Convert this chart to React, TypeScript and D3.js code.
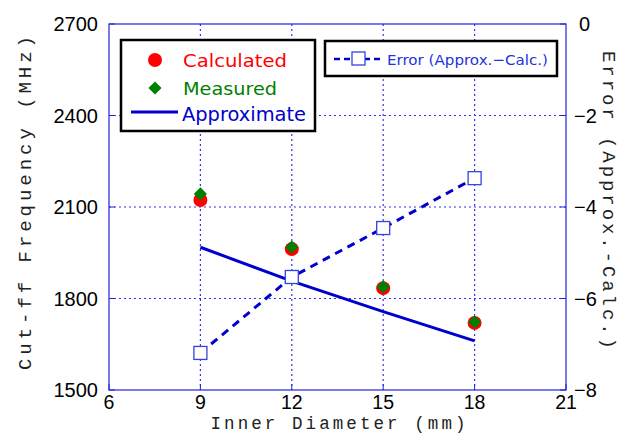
import { useEffect, useRef } from 'react';
import * as d3 from 'd3';

const diameters = [9, 12, 15, 18];
const calculated = [2123, 1962, 1834, 1720];
const measured = [2143, 1969, 1838, 1723];
const approximate = [1968, 1857, 1757, 1661];
const errors = [-7.19, -5.53, -4.46, -3.37];

const xTicks = [6, 9, 12, 15, 18, 21];
const yTicks = [1500, 1800, 2100, 2400, 2700];
const y2Ticks = [0, -2, -4, -6, -8];

const BLUE = '#0000cc';
const GRID = '#3333ee';

export default function App() {
  const svgRef = useRef<SVGSVGElement>(null);

  useEffect(() => {
    if (!svgRef.current) return;
    const svg = d3.select(svgRef.current);
    svg.selectAll('*').remove();

    const margin = { top: 24, right: 52, bottom: 44, left: 109 };
    const W = 618, H = 434;
    const width = W - margin.left - margin.right;
    const height = H - margin.top - margin.bottom;

    const g = svg.append('g').attr('transform', `translate(${margin.left},${margin.top})`);

    const x = d3.scaleLinear().domain([6, 21]).range([0, width]);
    const y = d3.scaleLinear().domain([1500, 2700]).range([height, 0]);
    const y2 = d3.scaleLinear().domain([-8, 0]).range([height, 0]);

    // grid
    g.selectAll('.vgrid')
      .data(xTicks.slice(1, -1))
      .enter()
      .append('line')
      .attr('x1', d => x(d)).attr('x2', d => x(d))
      .attr('y1', 0).attr('y2', height)
      .attr('stroke', GRID).attr('stroke-width', 1.2).attr('stroke-dasharray', '2,3');
    g.selectAll('.hgrid')
      .data(yTicks.slice(1, -1))
      .enter()
      .append('line')
      .attr('y1', d => y(d)).attr('y2', d => y(d))
      .attr('x1', 0).attr('x2', width)
      .attr('stroke', GRID).attr('stroke-width', 1.2).attr('stroke-dasharray', '2,3');

    // frame
    g.append('rect')
      .attr('width', width).attr('height', height)
      .attr('fill', 'none').attr('stroke', '#2222dd').attr('stroke-width', 1.2);

    // inward ticks
    const tick = 6;
    g.selectAll('.xt').data(xTicks).enter().append('line')
      .attr('x1', d => x(d)).attr('x2', d => x(d))
      .attr('y1', height).attr('y2', height - tick)
      .attr('stroke', '#2222dd');
    g.selectAll('.yt').data(yTicks).enter().append('line')
      .attr('x1', 0).attr('x2', tick)
      .attr('y1', d => y(d)).attr('y2', d => y(d))
      .attr('stroke', '#2222dd');
    g.selectAll('.y2t').data(y2Ticks).enter().append('line')
      .attr('x1', width).attr('x2', width - tick)
      .attr('y1', d => y2(d)).attr('y2', d => y2(d))
      .attr('stroke', '#2222dd');

    const tickFont = 'Liberation Sans, Arial, sans-serif';

    // tick labels
    g.selectAll('.xl').data(xTicks).enter().append('text')
      .attr('x', d => x(d)).attr('y', height + 19)
      .attr('text-anchor', 'middle')
      .attr('font-family', tickFont).attr('font-size', 19.5)
      .text(d => d);
    g.selectAll('.yl').data(yTicks).enter().append('text')
      .attr('x', -11).attr('y', d => y(d) + 7)
      .attr('text-anchor', 'end')
      .attr('font-family', tickFont).attr('font-size', 20)
      .text(d => d);
    g.selectAll('.y2l').data(y2Ticks).enter().append('text')
      .attr('x', d => (d === 0 ? width + 13 : width + 8)).attr('y', d => y2(d) + 7)
      .attr('text-anchor', 'start')
      .attr('font-family', tickFont).attr('font-size', 20)
      .text(d => (d === 0 ? '0' : '\u2212' + Math.abs(d)));

    // axis titles
    const titleFont = 'Liberation Mono, DejaVu Sans Mono, monospace';
    svg.append('text')
      .attr('x', 338).attr('y', 429)
      .attr('text-anchor', 'middle')
      .attr('font-family', titleFont).attr('font-size', 17.5).attr('fill', '#222')
      .attr('textLength', 255).attr('lengthAdjust', 'spacing')
      .text('Inner Diameter (mm)');
    svg.append('text')
      .attr('transform', `translate(31,203) rotate(-90)`)
      .attr('text-anchor', 'middle')
      .attr('font-family', titleFont).attr('font-size', 19).attr('fill', '#222')
      .attr('textLength', 334).attr('lengthAdjust', 'spacing')
      .text('Cut-ff Frequency (MHz)');
    svg.append('text')
      .attr('transform', `translate(603,200) rotate(90)`)
      .attr('text-anchor', 'middle')
      .attr('font-family', titleFont).attr('font-size', 19).attr('fill', '#222')
      .attr('textLength', 298).attr('lengthAdjust', 'spacing')
      .text('Error (Approx.-Calc.)');

    // approximate line
    const line = d3.line<number>().x((_, i) => x(diameters[i])).y(d => y(d));
    g.append('path')
      .datum(approximate)
      .attr('d', line)
      .attr('fill', 'none').attr('stroke', BLUE).attr('stroke-width', 3);

    // error line
    const eline = d3.line<number>().x((_, i) => x(diameters[i])).y(d => y2(d));
    g.append('path')
      .datum(errors)
      .attr('d', eline)
      .attr('fill', 'none').attr('stroke', BLUE).attr('stroke-width', 3)
      .attr('stroke-dasharray', '8,6');

    // calculated points
    g.selectAll('.calc').data(calculated).enter().append('circle')
      .attr('cx', (_, i) => x(diameters[i])).attr('cy', d => y(d))
      .attr('r', 7).attr('fill', '#ff0000');

    // measured diamonds
    const diamond = d3.symbol().type(d3.symbolDiamond2).size(110);
    g.selectAll('.meas').data(measured).enter().append('path')
      .attr('d', diamond)
      .attr('transform', (d, i) => `translate(${x(diameters[i])},${y(d)})`)
      .attr('fill', '#008000');

    // error squares
    g.selectAll('.err').data(errors).enter().append('rect')
      .attr('x', (_, i) => x(diameters[i]) - 6.5).attr('y', d => y2(d) - 6.5)
      .attr('width', 13).attr('height', 13)
      .attr('fill', 'white').attr('stroke', '#3344dd').attr('stroke-width', 1.3);

    // legend 1
    const lg = svg.append('g');
    lg.append('rect')
      .attr('x', 121).attr('y', 40).attr('width', 194).attr('height', 91)
      .attr('fill', 'white').attr('stroke', '#000').attr('stroke-width', 2.5);
    const legFont = 'DejaVu Sans, Verdana, sans-serif';
    lg.append('circle').attr('cx', 155).attr('cy', 60).attr('r', 7).attr('fill', '#ff0000');
    lg.append('text').attr('x', 183).attr('y', 67).attr('font-family', legFont).attr('font-size', 18.5)
      .attr('fill', '#ff0000').attr('textLength', 104).attr('lengthAdjust', 'spacingAndGlyphs')
      .text('Calculated');
    lg.append('path').attr('d', diamond).attr('transform', 'translate(155,88)').attr('fill', '#008000');
    lg.append('text').attr('x', 183).attr('y', 95).attr('font-family', legFont).attr('font-size', 18.5)
      .attr('fill', '#008000').attr('textLength', 94).attr('lengthAdjust', 'spacingAndGlyphs')
      .text('Measured');
    lg.append('line').attr('x1', 131).attr('x2', 178).attr('y1', 112).attr('y2', 112)
      .attr('stroke', BLUE).attr('stroke-width', 3);
    lg.append('text').attr('x', 182).attr('y', 121).attr('font-family', legFont).attr('font-size', 19)
      .attr('fill', BLUE).attr('textLength', 124).attr('lengthAdjust', 'spacingAndGlyphs')
      .text('Approximate');

    // legend 2
    lg.append('rect')
      .attr('x', 325).attr('y', 41).attr('width', 232).attr('height', 35)
      .attr('fill', 'white').attr('stroke', '#000').attr('stroke-width', 2.5);
    lg.append('line').attr('x1', 334).attr('x2', 382).attr('y1', 59).attr('y2', 59)
      .attr('stroke', BLUE).attr('stroke-width', 2.5).attr('stroke-dasharray', '6,4');
    lg.append('rect').attr('x', 352).attr('y', 52).attr('width', 13).attr('height', 13)
      .attr('fill', 'white').attr('stroke', '#3344dd').attr('stroke-width', 1.3);
    lg.append('text').attr('x', 387).attr('y', 65).attr('font-family', legFont).attr('font-size', 14.5)
      .attr('fill', '#2233dd').attr('textLength', 161).attr('lengthAdjust', 'spacingAndGlyphs')
      .text('Error (Approx.\u2212Calc.)');
  }, []);

  return (
    <svg
      ref={svgRef}
      width={618}
      height={434}
      style={{ position: 'absolute', left: 0, top: 0, background: 'white' }}
    />
  );
}
